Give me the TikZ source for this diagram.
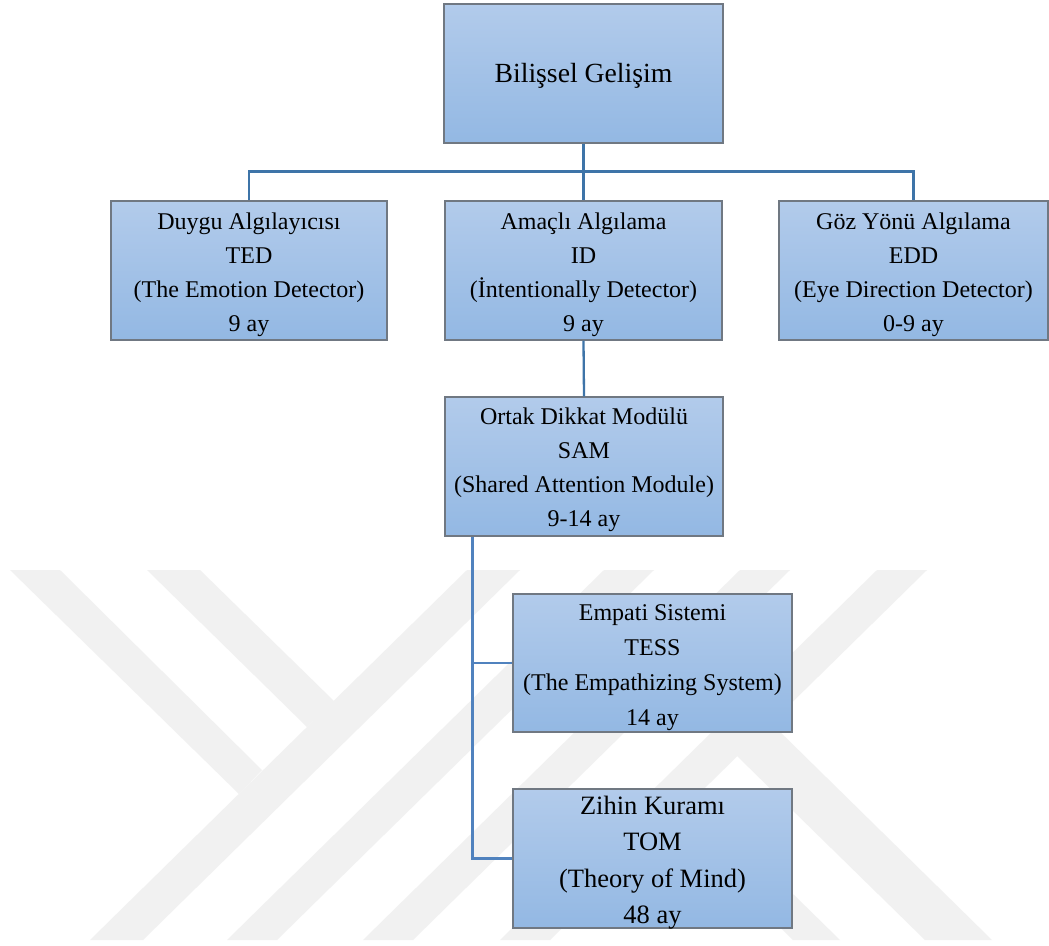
\documentclass[tikz,border=0pt]{standalone}
\usepackage{fontspec}
\setmainfont{Liberation Serif}
\definecolor{wm}{RGB}{241,241,241}
\definecolor{boxtop}{RGB}{178,203,235}
\definecolor{boxbot}{RGB}{147,184,227}
\definecolor{boxedge}{RGB}{112,120,130}
\definecolor{linkA}{RGB}{62,116,168}
\definecolor{linkB}{RGB}{80,130,190}
\begin{document}
\begin{tikzpicture}[x=1pt,y=-1pt,
  box/.style={draw=boxedge, line width=1.3pt, top color=boxtop, bottom color=boxbot,
    inner sep=0pt},
  txt/.style={align=center, inner sep=0pt, text=black, font=\fontsize{24}{34}\selectfont},
  linka/.style={draw=linkA, line width=2.3pt},
  linkb/.style={draw=linkB, line width=2.3pt},
  wmark/.style={fill=wm, draw=none}]
\useasboundingbox (0,0) rectangle (1049,945);
\fill[white] (0,0) rectangle (1049,945);
% watermark
\fill[wmark] (10,570) -- (60,570) -- (262,770) -- (239,794) -- cycle;
\fill[wmark] (147,570) -- (200,570) -- (334,701) -- (307,727) -- cycle;
\fill[wmark] (90,940) -- (143,940) -- (520,570) -- (467,570) -- cycle;
\fill[wmark] (227,940) -- (277,940) -- (654,570) -- (604,570) -- cycle;
\fill[wmark] (363,940) -- (413,940) -- (790,570) -- (740,570) -- cycle;
\fill[wmark] (500,940) -- (550,940) -- (927,570) -- (877,570) -- cycle;
\fill[wmark] (737,756) -- (771,723) -- (992,940) -- (925,940) -- cycle;
\fill[wmark] (701,850) -- (748,850) -- (840,940) -- (793,940) -- cycle;
% boxes
\node[box, minimum width=279pt, minimum height=139pt] (top) at (583.5,73.5) {};
\node[box, minimum width=276pt, minimum height=139pt] (ted) at (249,270.5) {};
\node[box, minimum width=277pt, minimum height=139pt] (id) at (583.5,270.5) {};
\node[box, minimum width=269pt, minimum height=139pt] (edd) at (913.5,270.5) {};
\node[box, minimum width=278pt, minimum height=139pt] (sam) at (584,466.5) {};
\node[box, minimum width=279pt, minimum height=138pt] (tess) at (652.5,663) {};
\node[box, minimum width=279pt, minimum height=139pt] (tom) at (652.5,858.5) {};
% texts
\node[txt, font=\fontsize{27.7}{33}\selectfont] (topt) at ([yshift=-2pt]top.center) {Bilişsel Gelişim};
\node[txt] (tedt) at ([yshift=-4pt]ted.center) {Duygu Algılayıcısı\\TED\\(The Emotion Detector)\\9 ay};
\node[txt] (idt) at ([yshift=-4pt]id.center) {Amaçlı Algılama\\ID\\(İntentionally Detector)\\9 ay};
\node[txt] (eddt) at ([yshift=-4pt]edd.center) {Göz Yönü Algılama\\EDD\\(Eye Direction Detector)\\0-9 ay};
\node[txt] (samt) at ([yshift=-3pt]sam.center) {Ortak Dikkat Modülü\\SAM\\(Shared Attention Module)\\9-14 ay};
\node[txt, font=\fontsize{24}{35}\selectfont] (tesst) at ([yshift=-5pt]tess.center) {Empati Sistemi\\TESS\\(The Empathizing System)\\14 ay};
\node[txt, font=\fontsize{26.5}{36.5}\selectfont] (tomt) at ([yshift=-4pt]tom.center) {Zihin Kuramı\\TOM\\(Theory of Mind)\\48 ay};
% connectors
\draw[linka] (top.south) -- (id.north);
\draw[linka] (ted.north) -- ++(0,-29) coordinate (busl) -| (edd.north);
\draw[linka] (id.south) -- (sam.north);
\coordinate (sd) at ([xshift=28pt]sam.south west);
\draw[linkb] (sd) |- (tom.west);
\draw[linkb] (sd |- tess.west) -- (tess.west);
\end{tikzpicture}
\end{document}
